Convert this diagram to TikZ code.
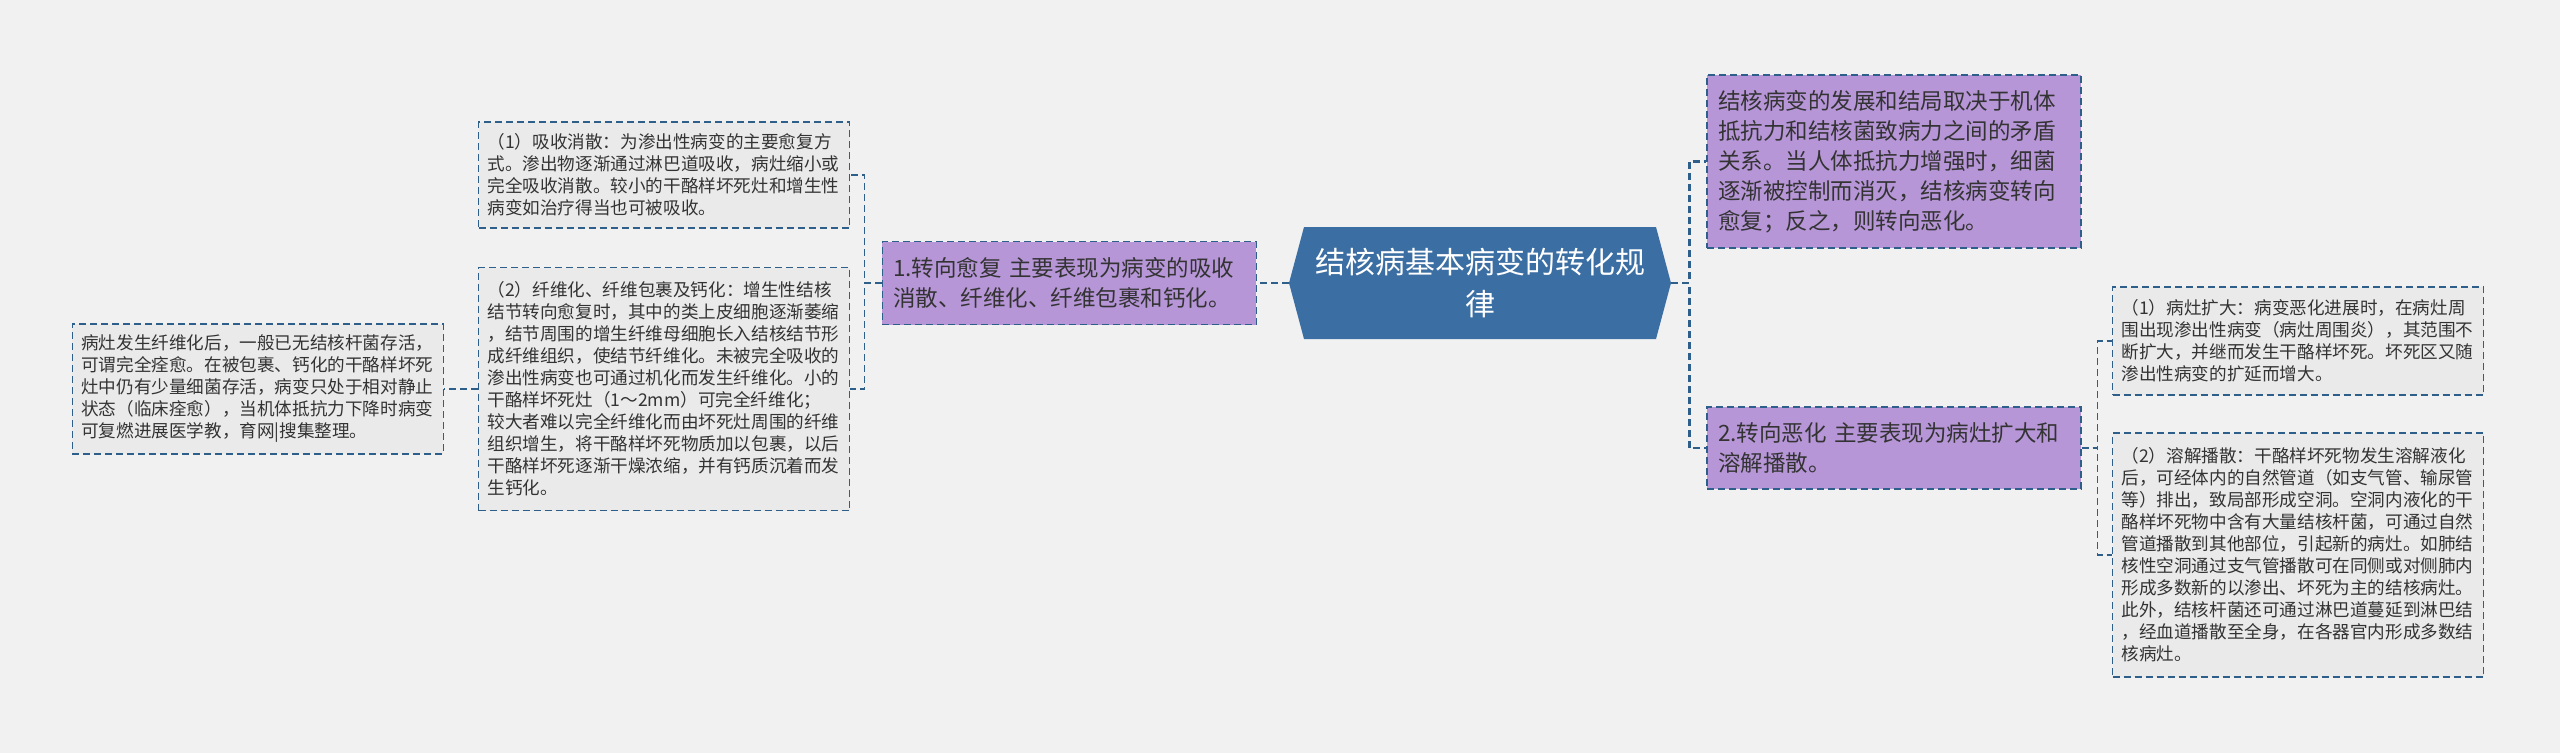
\documentclass[tikz,border=0pt]{standalone}
\usepackage{fontspec}
\setmainfont{Noto Sans CJK SC}
\usetikzlibrary{positioning,shapes.symbols}
\definecolor{rootblue}{HTML}{3B6EA3}
\definecolor{linkblue}{HTML}{2E5F8A}
\definecolor{lilac}{HTML}{B796D8}
\definecolor{leafgrey}{HTML}{EAEAEA}
\definecolor{paper}{HTML}{F1F1F1}
\definecolor{textgrey}{HTML}{333333}
\tikzset{%
  % Specifications for style of nodes:
        base/.style = {rectangle, draw=linkblue, line width=1.3pt,
                       dash pattern=on 7pt off 4pt, align=left,
                       inner xsep=9pt, inner ysep=0pt, text=textgrey},
     hexroot/.style = {signal, signal to=west and east,
                       signal pointer angle=150, fill=rootblue, text=white,
                       minimum width=382pt, minimum height=112pt,
                       align=center, font=\fontsize{30}{42}\selectfont},
     mainbox/.style = {base, fill=lilac, text width=352pt, inner xsep=11pt,
                       font=\fontsize{22.5}{30}\selectfont},
     leafbox/.style = {base, fill=leafgrey, text width=353pt,
                       font=\fontsize{17.6}{22}\selectfont},
  % Specifications for style of connectors:
        link/.style = {draw=linkblue, line width=1.5pt,
                       dash pattern=on 7pt off 4pt},
    mainlink/.style = {link, line width=2.6pt},
}

\begin{document}
\begin{tikzpicture}[x=1pt, y=-1pt]
\fill[paper] (0,0) rectangle (2560,753);
\useasboundingbox (0,0) rectangle (2560,753);

\node (root)     [hexroot] at (1480,283)     {结核病基本病变的转化规\\律};

\node (heal)     [mainbox, minimum height=83pt, left=32pt of root]
  {1.转向愈复 主要表现为病变的吸收\\消散、纤维化、纤维包裹和钙化。};

\node (absorb)   [leafbox, minimum height=106pt] at (664,175)
  {（1）吸收消散：为渗出性病变的主要愈复方\\式。渗出物逐渐通过淋巴道吸收，病灶缩小或\\完全吸收消散。较小的干酪样坏死灶和增生性\\病变如治疗得当也可被吸收。};

\node (fibro)    [leafbox, minimum height=243pt] at (664,389)
  {（2）纤维化、纤维包裹及钙化：增生性结核\\结节转向愈复时，其中的类上皮细胞逐渐萎缩\\，结节周围的增生纤维母细胞长入结核结节形\\成纤维组织，使结节纤维化。未被完全吸收的\\渗出性病变也可通过机化而发生纤维化。小的\\干酪样坏死灶（1～2mm）可完全纤维化；\\较大者难以完全纤维化而由坏死灶周围的纤维\\组织增生，将干酪样坏死物质加以包裹，以后\\干酪样坏死逐渐干燥浓缩，并有钙质沉着而发\\生钙化。};

\node (note)     [leafbox, minimum height=130pt, left=34pt of fibro]
  {病灶发生纤维化后，一般已无结核杆菌存活，\\可谓完全痊愈。在被包裹、钙化的干酪样坏死\\灶中仍有少量细菌存活，病变只处于相对静止\\状态（临床痊愈），当机体抵抗力下降时病变\\可复燃进展医学教，育网|搜集整理。};

\node (intro)    [mainbox, minimum height=173pt] at (1894,161.5)
  {结核病变的发展和结局取决于机体\\抵抗力和结核菌致病力之间的矛盾\\关系。当人体抵抗力增强时，细菌\\逐渐被控制而消灭，结核病变转向\\愈复；反之，则转向恶化。};

\node (worse)    [mainbox, minimum height=82pt] at (1894,448)
  {2.转向恶化 主要表现为病灶扩大和\\溶解播散。};

\node (spread)   [leafbox, minimum height=108pt] at (2298,341)
  {（1）病灶扩大：病变恶化进展时，在病灶周\\围出现渗出性病变（病灶周围炎），其范围不\\断扩大，并继而发生干酪样坏死。坏死区又随\\渗出性病变的扩延而增大。};

\node (dissolve) [leafbox, minimum height=244pt] at (2298,555)
  {（2）溶解播散：干酪样坏死物发生溶解液化\\后，可经体内的自然管道（如支气管、输尿管\\等）排出，致局部形成空洞。空洞内液化的干\\酪样坏死物中含有大量结核杆菌，可通过自然\\管道播散到其他部位，引起新的病灶。如肺结\\核性空洞通过支气管播散可在同侧或对侧肺内\\形成多数新的以渗出、坏死为主的结核病灶。\\此外，结核杆菌还可通过淋巴道蔓延到淋巴结\\，经血道播散至全身，在各器官内形成多数结\\核病灶。};

\draw[mainlink] (root.west) -- (heal.east);
\draw[mainlink] (root.east) -- ++(18,0) |- (intro.west);
\draw[mainlink] (root.east) -- ++(18,0) |- (worse.west);
\draw[link]     (heal.west) -- ++(-17,0) |- (absorb.east);
\draw[link]     (heal.west) -- ++(-17,0) |- (fibro.east);
\draw[link]     (fibro.west) -- (note.east);
\draw[link]     (worse.east) -- ++(16,0) |- (spread.west);
\draw[link]     (worse.east) -- ++(16,0) |- (dissolve.west);
\end{tikzpicture}
\end{document}
